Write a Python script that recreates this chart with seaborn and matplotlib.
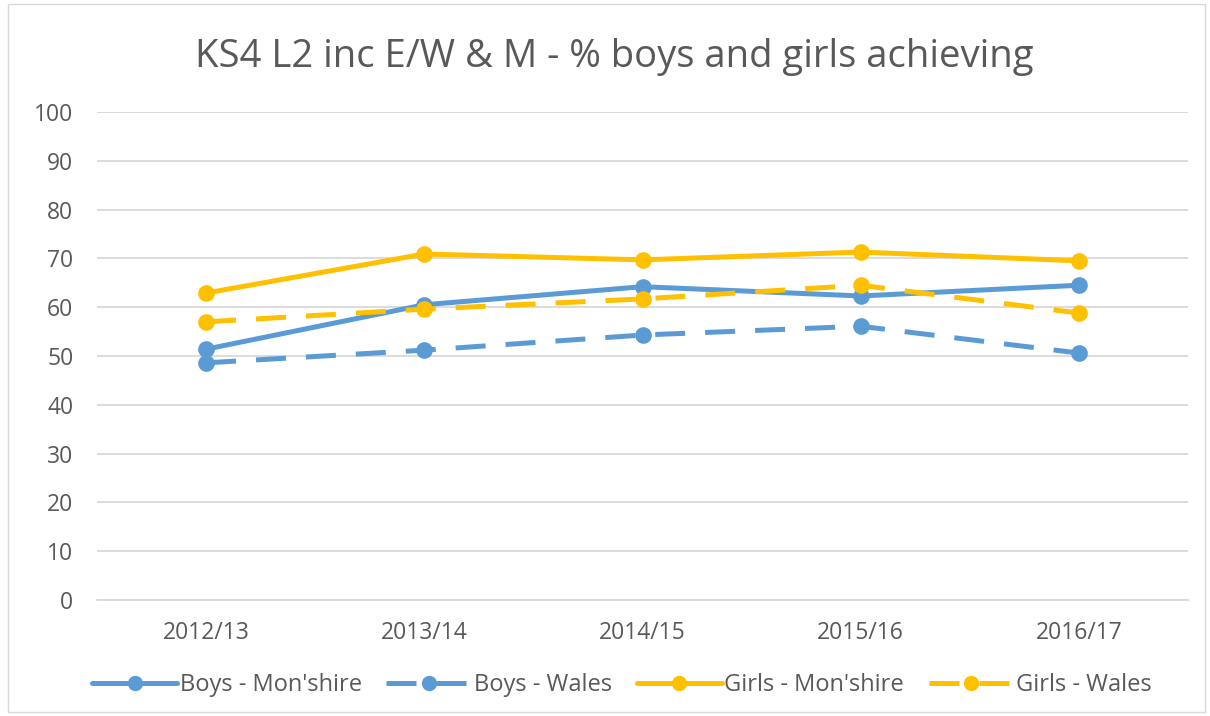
import matplotlib
matplotlib.use("Agg")
import matplotlib.pyplot as plt
import seaborn as sns
import pandas as pd
from matplotlib.patches import Rectangle

years = ["2012/13", "2013/14", "2014/15", "2015/16", "2016/17"]
boys_mon = [51.4, 60.5, 64.2, 62.3, 64.5]
boys_wales = [48.6, 51.2, 54.3, 56.1, 50.6]
girls_mon = [62.9, 70.9, 69.7, 71.3, 69.5]
girls_wales = [57.0, 59.6, 61.7, 64.5, 58.8]
series_names = ["Boys - Mon'shire", "Boys - Wales", "Girls - Mon'shire", "Girls - Wales"]

rows = []
for name, vals in zip(series_names, [boys_mon, boys_wales, girls_mon, girls_wales]):
    for i, (y, v) in enumerate(zip(years, vals)):
        rows.append({"x": i, "year": y, "value": v, "series": name})
df = pd.DataFrame(rows)

sns.set_theme(style="white")
plt.rcParams['font.family'] = ['Open Sans', 'DejaVu Sans']

BLUE = "#5B9BD5"
YEL = "#FFC000"
palette = {series_names[0]: BLUE, series_names[1]: BLUE, series_names[2]: YEL, series_names[3]: YEL}
dashes = {series_names[0]: "", series_names[1]: (6, 4), series_names[2]: "", series_names[3]: (6, 4)}
markers = {n: "o" for n in series_names}

fig = plt.figure(figsize=(12.10, 7.16), dpi=100)
ax = fig.add_axes([97/1210, 1 - 600/716, (1188-97)/1210, (600-112)/716])

sns.lineplot(data=df, x="x", y="value", hue="series", style="series",
             palette=palette, dashes=dashes, markers=markers,
             linewidth=3.6, markersize=12, markeredgewidth=0, ax=ax, legend=True)

ax.set_xlim(-0.5, 4.5)
ax.set_ylim(0, 100)
ax.set_yticks(range(0, 101, 10))
ax.set_xticks(range(5))
ax.set_xticklabels(years)
ax.grid(axis="y", color="#D9D9D9", linewidth=1.3)
ax.set_axisbelow(True)
for s in ["top", "right", "left"]:
    ax.spines[s].set_visible(False)
ax.spines["bottom"].set_color("#D9D9D9")
ax.spines["bottom"].set_linewidth(1.3)
ax.tick_params(axis="both", length=0, labelsize=16.5, colors="#595959")
ax.tick_params(axis="y", pad=17)
ax.tick_params(axis="x", pad=15)
ax.set_xlabel("")
ax.set_ylabel("")

fig.text(0.508, 1 - 57/716, "KS4 L2 inc E/W & M - % boys and girls achieving",
         ha="center", va="center", fontsize=27.5, color="#595959")

handles, labels = ax.get_legend_handles_labels()
for h in handles:
    h.set_markersize(11)
    h.set_linewidth(3.6)
ax.legend(handles, labels, loc="center", bbox_to_anchor=((622-97)/1091, (600-685)/488),
          ncol=4, frameon=False, fontsize=17, handlelength=3.6, handletextpad=0.1,
          columnspacing=1.05, labelcolor="#595959")

fig.patches.append(Rectangle((8/1210, 4/716), 1197/1210, 708/716, transform=fig.transFigure,
                             fill=False, edgecolor="#D9D9D9", linewidth=1))

fig.savefig("out.png", dpi=100)
